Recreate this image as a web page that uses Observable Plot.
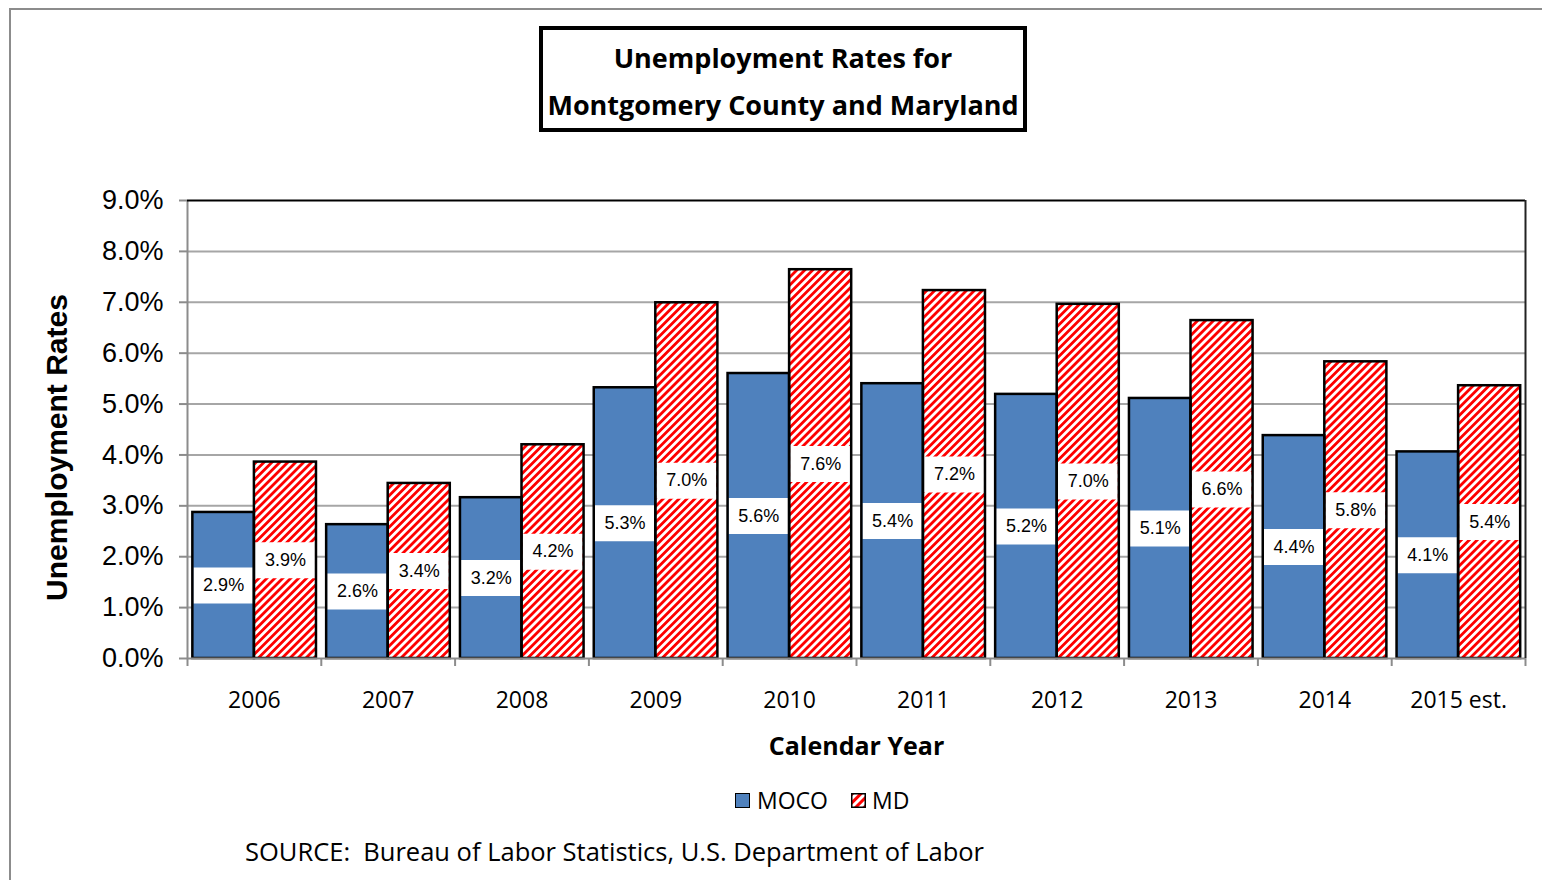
<!DOCTYPE html>
<html>
<head>
<meta charset="utf-8">
<script src="https://cdn.jsdelivr.net/npm/d3@7"></script>
<script src="https://cdn.jsdelivr.net/npm/@observablehq/plot@0.6"></script>
<style>
  html, body { margin: 0; padding: 0; background: #fff; }
  #page { position: relative; width: 1542px; height: 880px; overflow: hidden; background: #fff; font-family: "Open Sans", sans-serif; }
  #outer { position: absolute; left: 9px; top: 8px; width: 1700px; height: 1000px; border: 2px solid #8c8c8c; }
  #title { position: absolute; left: 539px; top: 26px; width: 488px; height: 106px; box-sizing: border-box; border: 4px solid #000;
           text-align: center; font-weight: bold; font-size: 27px; line-height: 47px; padding-top: 4px; color: #000; }
  #chart { position: absolute; left: 0; top: 170px; }
  .leg { position: absolute; font-size: 23px; line-height: 30px; color: #000; }
  .sw { position: absolute; width: 15px; height: 15px; box-sizing: border-box; border: 1.5px solid #000; }
  #source { position: absolute; left: 245px; top: 834px; font-size: 25.5px; line-height: 34px; white-space: pre; color: #000; }
</style>
</head>
<body>
<div id="page">
  <div id="outer"></div>
  <div id="title">Unemployment Rates for<br>Montgomery County and Maryland</div>
  <div id="chart"></div>
  <div class="sw" style="left:735px;top:793px;background:#4F81BD"></div>
  <div class="leg" style="left:757px;top:785px">MOCO</div>
  <svg class="sw" style="left:851px;top:793px;border:none;overflow:visible" width="15" height="15">
    <defs>
      <pattern id="legHatch" patternUnits="userSpaceOnUse" width="6" height="6" patternTransform="rotate(45)">
        <rect width="6" height="6" fill="#fff"></rect><rect width="3" height="6" fill="#ff0000"></rect>
      </pattern>
    </defs>
    <rect x="0.75" y="0.75" width="13.5" height="13.5" fill="url(#legHatch)" stroke="#000" stroke-width="1.5"></rect>
  </svg>
  <div class="leg" style="left:872px;top:785px">MD</div>
  <div id="source">SOURCE:  Bureau of Labor Statistics, U.S. Department of Labor</div>
</div>
<script>
// ---- data ----
const years = ["2006", "2007", "2008", "2009", "2010", "2011", "2012", "2013", "2014", "2015 est."];
const seriesNames = ["MOCO", "MD"];
const mocoRates = [2.87, 2.63, 3.16, 5.32, 5.60, 5.40, 5.19, 5.11, 4.38, 4.06];
const mdRates = [3.86, 3.44, 4.20, 6.99, 7.64, 7.23, 6.96, 6.64, 5.83, 5.36];
const yTicks = [0, 1, 2, 3, 4, 5, 6, 7, 8, 9];

// ---- build rows ----
const rows = [];
years.forEach((year, i) => {
  rows.push({i, year, series: seriesNames[0], value: mocoRates[i], a: 0.04, b: 0.5});
  rows.push({i, year, series: seriesNames[1], value: mdRates[i], a: 0.5, b: 0.964});
});
const moco = rows.filter(d => d.series === "MOCO");
const md = rows.filter(d => d.series === "MD");
const x1 = d => d.i + d.a;
const x2 = d => d.i + d.b;
const xc = d => d.i + (d.a + d.b) / 2;
const groups = d3.range(years.length + 1);
const centers = years.map((_, i) => i + 0.5);

const W = 1542, H = 590;
const plot = Plot.plot({
  width: W,
  height: H,
  marginLeft: 187,
  marginRight: 17,
  marginTop: 30,
  marginBottom: 102,
  style: {fontFamily: "'Open Sans', sans-serif", background: "transparent", color: "#000"},
  x: {type: "linear", domain: [0, years.length], axis: null},
  y: {domain: [0, 9], axis: null},
  marks: [
    Plot.ruleY(yTicks.slice(1, -1), {stroke: "#a6a6a6", strokeWidth: 2}),
    Plot.rectY(moco, {x1, x2, y1: 0, y2: "value", fill: "#4F81BD"}),
    Plot.rectY(md, {x1, x2, y1: 0, y2: "value", fill: "url(#mdHatch)"}),
    Plot.ruleY(rows, {x1, x2, y: d => d.value / 2, stroke: "#fff", strokeWidth: 36, insetLeft: 1, insetRight: 1}),
    Plot.text(rows, {x: xc, y: d => d.value / 2, text: d => d3.format(".1f")(d.value) + "%", fontSize: 18, fontFamily: "'Liberation Sans', Arial, sans-serif", fill: "#000"}),
    Plot.rectY(rows, {x1, x2, y1: 0, y2: "value", fill: "none", stroke: "#000", strokeWidth: 2.5}),
    Plot.ruleY([0], {stroke: "#8c8c8c", strokeWidth: 2}),
    Plot.ruleX([0], {stroke: "#8c8c8c", strokeWidth: 2}),
    Plot.ruleY([9], {stroke: "#000", strokeWidth: 2}),
    Plot.ruleX([years.length], {stroke: "#222", strokeWidth: 2}),
    Plot.axisY({ticks: yTicks, tickSize: 8, tickPadding: 16, stroke: "#8c8c8c", strokeWidth: 2,
      tickFormat: d => d.toFixed(1) + "%", fontSize: 27, fontFamily: "'Liberation Sans', Arial, sans-serif", fill: "#000", label: null}),
    Plot.axisX({ticks: groups, tickSize: 8, stroke: "#8c8c8c", strokeWidth: 2, tickFormat: () => "", label: null}),
    Plot.axisX({ticks: centers, tickSize: 0, tickPadding: 33, tickFormat: d => years[Math.round(d - 0.5)], fontSize: 23, fill: "#000", label: null}),
    Plot.text(["Calendar Year"], {frameAnchor: "bottom", dy: 88, lineAnchor: "middle", fontSize: 25, fontWeight: "bold", fill: "#000"}),
    Plot.text(["Unemployment Rates"], {frameAnchor: "left", textAnchor: "middle", dx: -130, dy: 18, rotate: -90, lineAnchor: "middle", fontSize: 30, fontWeight: "bold", fontFamily: "'Liberation Sans', Arial, sans-serif", fill: "#000"})
  ]
});

// hatch pattern for MD bars
const NS = "http://www.w3.org/2000/svg";
const defs = document.createElementNS(NS, "defs");
const pat = document.createElementNS(NS, "pattern");
pat.setAttribute("id", "mdHatch");
pat.setAttribute("patternUnits", "userSpaceOnUse");
pat.setAttribute("width", "5.6");
pat.setAttribute("height", "5.6");
pat.setAttribute("patternTransform", "rotate(45)");
const r1 = document.createElementNS(NS, "rect");
r1.setAttribute("width", "5.6"); r1.setAttribute("height", "5.6"); r1.setAttribute("fill", "#fff");
const r2 = document.createElementNS(NS, "rect");
r2.setAttribute("width", "2.8"); r2.setAttribute("height", "5.6"); r2.setAttribute("fill", "#ff0000");
pat.appendChild(r1); pat.appendChild(r2); defs.appendChild(pat);
plot.insertBefore(defs, plot.firstChild);

document.getElementById("chart").appendChild(plot);
</script>
</body>
</html>
